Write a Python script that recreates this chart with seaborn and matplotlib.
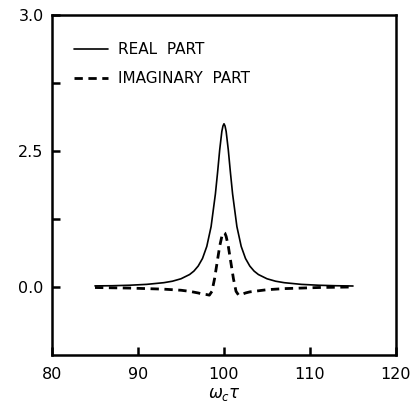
"""Real and imaginary parts of the response around omega_c tau = 100"""

import matplotlib
matplotlib.use('Agg')
import matplotlib.pyplot as plt
import pandas as pd
import seaborn as sns

# values
real_x = [85, 87, 89, 91, 93, 94, 95, 96, 96.5, 97, 97.5, 98, 98.5, 99, 99.25,
          99.5, 99.75, 99.88, 100, 100.12, 100.25, 100.5, 100.75, 101, 101.5,
          102, 102.5, 103, 103.5, 104, 105, 106, 107, 109, 111, 113, 115]
real_y = [0.02, 0.023, 0.032, 0.048, 0.079, 0.106, 0.151, 0.229, 0.292, 0.385,
          0.524, 0.746, 1.11, 1.71, 2.10, 2.52, 2.86, 2.96, 3.0, 2.96, 2.86,
          2.52, 2.10, 1.71, 1.11, 0.746, 0.524, 0.385, 0.292, 0.229, 0.151,
          0.106, 0.079, 0.048, 0.032, 0.023, 0.018]

imag_x = [85, 87, 89, 91, 93, 94, 95, 96, 97, 97.5, 98, 98.3, 98.6, 98.9, 99.2,
          99.5, 99.75, 99.9, 100, 100.1, 100.25, 100.5, 100.8, 101.1, 101.4,
          101.7, 102, 102.5, 103, 104, 105, 107, 109, 111, 113, 115]
imag_y = [-0.01, -0.015, -0.02, -0.03, -0.04, -0.05, -0.06, -0.08, -0.11, -0.13,
          -0.14, -0.15, -0.08, 0.15, 0.45, 0.75, 0.93, 0.99, 1.0, 0.99, 0.93,
          0.75, 0.45, 0.15, -0.08, -0.15, -0.14, -0.11, -0.09, -0.07, -0.05,
          -0.03, -0.02, -0.01, -0.005, 0.0]

y_ticks = [0.0, 1.25, 2.5, 3.75, 5.0]
y_tick_labels = ['0.0', '', '2.5', '', '3.0']
x_ticks = [80, 90, 100, 110, 120]

sns.set_style('ticks')
plt.rcParams['font.family'] = ['DejaVu Sans']
plt.rcParams['text.color'] = 'black'

real = pd.DataFrame({'x': real_x, 'y': real_y})
imag = pd.DataFrame({'x': imag_x, 'y': imag_y})

fig = plt.figure(figsize=(4.11, 4.05), dpi=100)
ax = fig.add_axes([0.1265, 0.1235, 0.837, 0.8395])

sns.lineplot(data=real, x='x', y='y', ax=ax, color='black', linewidth=1.2,
             label='REAL  PART', sort=False)
sns.lineplot(data=imag, x='x', y='y', ax=ax, color='black', linewidth=2.0,
             linestyle=(0, (3, 2)), label='IMAGINARY  PART', sort=False)

ax.set_xlim(80, 120)
ax.set_ylim(-1.25, 5.0)
ax.set_xticks(x_ticks)
ax.set_xticklabels([str(t) for t in x_ticks])
ax.set_yticks(y_ticks)
ax.set_yticklabels(y_tick_labels)
ax.set_xlabel(r'$\omega_c\tau$', fontsize=12, labelpad=2, color='black')
ax.set_ylabel('')

for spine in ax.spines.values():
    spine.set_linewidth(1.8)
    spine.set_color('black')
ax.tick_params(axis='both', direction='in', length=6, width=1.8,
               labelsize=11.5, colors='black')
ax.tick_params(axis='x', pad=9)
ax.tick_params(axis='y', pad=6)

leg = ax.legend(loc='upper left', bbox_to_anchor=(0.064, 0.92), frameon=False,
                fontsize=11, handlelength=2.2, handletextpad=0.7,
                labelspacing=0.9, borderpad=0, borderaxespad=0)
for txt in leg.get_texts():
    txt.set_color('black')

fig.savefig('out.png', dpi=100)
plt.close(fig)
